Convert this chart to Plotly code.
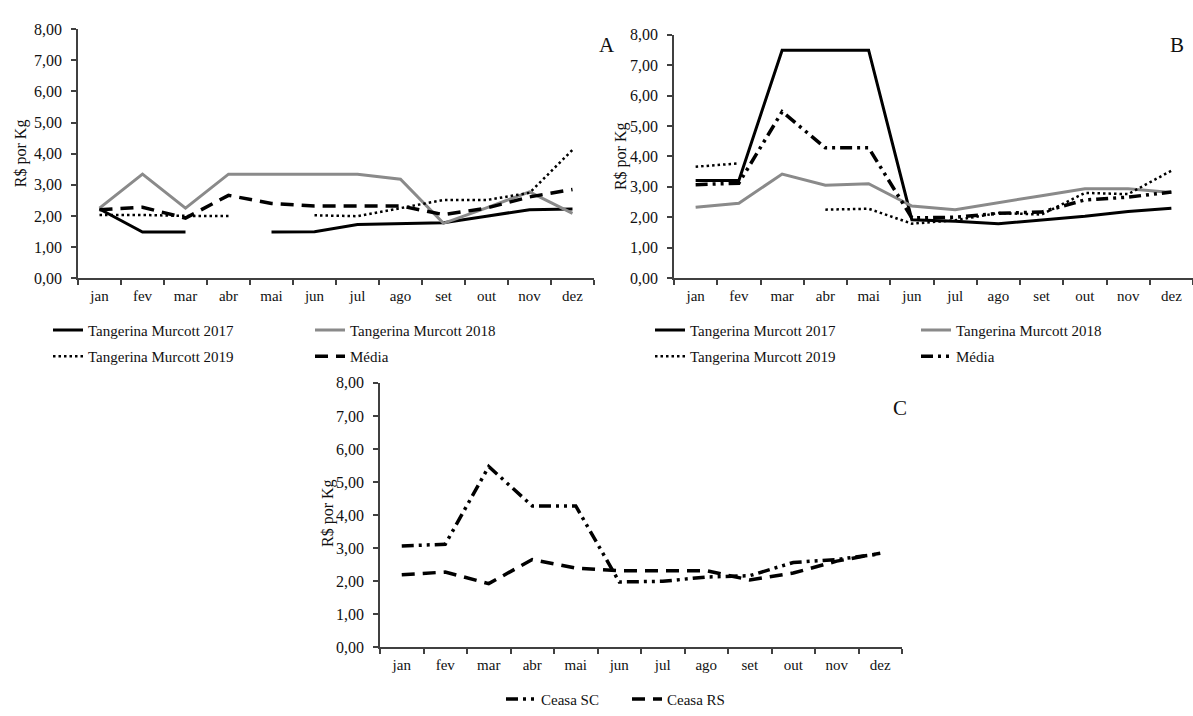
import plotly.graph_objects as go

months = ['jan', 'fev', 'mar', 'abr', 'mai', 'jun', 'jul', 'ago', 'set', 'out', 'nov', 'dez']

# Panel A
a_2017 = [2.22, 1.48, 1.48, None, 1.48, 1.49, 1.72, 1.74, 1.78, 1.99, 2.20, 2.22]
a_2018 = [2.25, 3.34, 2.25, 3.34, 3.34, 3.34, 3.34, 3.18, 1.76, 2.26, 2.77, 2.08]
a_2019 = [2.03, 2.03, 2.00, 2.00, None, 2.02, 1.99, 2.25, 2.51, 2.51, 2.74, 4.12]
a_media = [2.20, 2.28, 1.93, 2.66, 2.40, 2.32, 2.32, 2.32, 2.04, 2.25, 2.61, 2.85]

# Panel B
b_2017 = [3.21, 3.21, 7.49, 7.49, 7.49, 1.92, 1.87, 1.79, 1.92, 2.03, 2.19, 2.30]
b_2018 = [2.33, 2.46, 3.42, 3.05, 3.10, 2.37, 2.25, 2.47, 2.71, 2.94, 2.94, 2.81]
b_2019 = [3.66, 3.77, None, 2.25, 2.28, 1.79, 1.90, 2.14, 2.09, 2.80, 2.76, 3.53]
b_media = [3.07, 3.12, 5.47, 4.28, 4.28, 1.98, 2.00, 2.13, 2.17, 2.57, 2.66, 2.83]

# Panel C
ceasa_sc = list(b_media)
ceasa_rs = list(a_media)

y_ticks = [0, 1, 2, 3, 4, 5, 6, 7, 8]

FONT = '"Times New Roman", "Liberation Serif", serif'
W, H = 1193, 716
BLACK = '#000000'
GRAY = '#8a8a8a'
AXC = '#404040'

DOT = '2.5px,3px'
DASH = '13px,8px'
DASHDOTDOT = '12px,5px,3px,5px,3px,5px'

fig = go.Figure()

def add(y, name, xa, ya, color, width, dash, legend):
    fig.add_trace(go.Scatter(
        x=months, y=y, name=name, mode='lines',
        line=dict(color=color, width=width, dash=dash),
        connectgaps=False, xaxis=xa, yaxis=ya, legend=legend,
        hoverinfo='skip'))

add(a_2017, 'Tangerina Murcott 2017', 'x', 'y', BLACK, 3, 'solid', 'legend')
add(a_2018, 'Tangerina Murcott 2018', 'x', 'y', GRAY, 3, 'solid', 'legend')
add(a_2019, 'Tangerina Murcott 2019', 'x', 'y', BLACK, 2.5, DOT, 'legend2')
add(a_media, 'Média', 'x', 'y', BLACK, 3.5, DASH, 'legend2')

add(b_2017, 'Tangerina Murcott 2017', 'x2', 'y2', BLACK, 3, 'solid', 'legend3')
add(b_2018, 'Tangerina Murcott 2018', 'x2', 'y2', GRAY, 3, 'solid', 'legend3')
add(b_2019, 'Tangerina Murcott 2019', 'x2', 'y2', BLACK, 2.5, DOT, 'legend4')
add(b_media, 'Média', 'x2', 'y2', BLACK, 3.5, DASHDOTDOT, 'legend4')

add(ceasa_sc, 'Ceasa SC', 'x3', 'y3', BLACK, 3.5, DASHDOTDOT, 'legend5')
add(ceasa_rs, 'Ceasa RS', 'x3', 'y3', BLACK, 3.5, DASH, 'legend5')

xtickfont = dict(family=FONT, size=15, color='#111111')
ytickfont = dict(family=FONT, size=16, color='#111111')

def xaxis(x0, x1, anchor):
    return dict(domain=[x0 / W, x1 / W], anchor=anchor, type='category',
                categoryorder='array', categoryarray=months,
                range=[-0.5, 11.5], showline=True, linecolor=AXC, linewidth=1.5,
                ticks='outside', tickson='boundaries', ticklen=5, tickwidth=1.5,
                tickcolor=AXC, showgrid=False, zeroline=False, tickfont=xtickfont,
                ticklabelstandoff=3, fixedrange=True)

def yaxis(top, bottom, anchor):
    return dict(domain=[1 - bottom / H, 1 - top / H], anchor=anchor,
                range=[0, 8], tickvals=y_ticks, tickformat='.2f',
                showline=True, linecolor=AXC, linewidth=1.5,
                ticks='outside', ticklen=5, tickwidth=1.5, tickcolor=AXC,
                showgrid=False, zeroline=False, tickfont=ytickfont,
                ticklabelstandoff=6, fixedrange=True)

leg_common = dict(orientation='h', xref='paper', yref='paper', xanchor='left',
                  yanchor='middle', font=dict(family=FONT, size=15, color='#111111'),
                  bgcolor='rgba(0,0,0,0)', borderwidth=0, tracegroupgap=0)

def legend(xpx, ypx, ew):
    d = dict(leg_common)
    d.update(x=xpx / W, y=1 - ypx / H, entrywidth=ew, entrywidthmode='pixels')
    return d

ann = []
def label(text, xpx, ypx, size, angle=0):
    ann.append(dict(text=text, x=xpx / W, y=1 - ypx / H, xref='paper', yref='paper',
                    showarrow=False, textangle=angle, xanchor='center', yanchor='middle',
                    font=dict(family=FONT, size=size, color='#111111')))

label('R$ por Kg', 21.7, 149, 16, -90)
label('R$ por Kg', 621.7, 152, 16, -90)
label('R$ por Kg', 327.3, 517, 16, -90)
label('A', 607, 38, 21)
label('B', 1176.7, 38, 21)
label('C', 899.5, 410, 21)

fig.update_layout(
    width=W, height=H,
    margin=dict(l=0, r=0, t=0, b=0),
    paper_bgcolor='white', plot_bgcolor='white',
    separators=',.',
    showlegend=True,
    xaxis=xaxis(78, 594, 'y'),
    yaxis=yaxis(21.7, 276.7, 'x'),
    xaxis2=xaxis(674, 1193, 'y2'),
    yaxis2=yaxis(27.3, 276.7, 'x2'),
    xaxis3=xaxis(380, 902, 'y3'),
    yaxis3=yaxis(384, 655, 'x3'),
    legend=legend(48, 330, 217),
    legend2=legend(48, 357, 217),
    legend3=legend(650, 330, 221),
    legend4=legend(650, 357, 221),
    legend5=legend(501, 708, 81),
    annotations=ann,
)

fig.write_html('out.html')
